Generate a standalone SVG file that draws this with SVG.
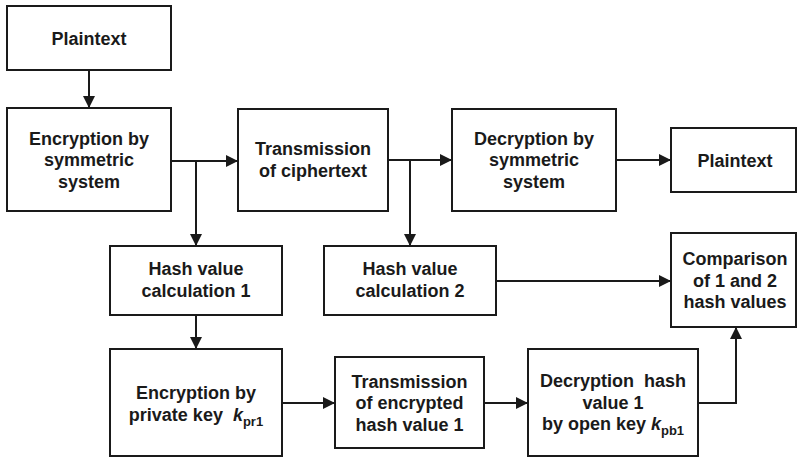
<svg xmlns="http://www.w3.org/2000/svg" width="797" height="459" viewBox="0 0 797 459">
  <style>
    .box { fill: #ffffff; stroke: #1a1a1a; stroke-width: 2; }
    .lbl { font-family: "Liberation Sans", Arial, sans-serif; font-weight: bold; font-size: 18px; fill: #1a1a1a; text-anchor: middle; white-space: pre; }
    .key { font-style: italic; }
    .sub { font-size: 13px; font-style: normal; }
    .wire { fill: none; stroke: #1a1a1a; stroke-width: 2; }
  </style>
  <defs>
    <marker id="arrow" markerUnits="userSpaceOnUse" markerWidth="12" markerHeight="12" viewBox="0 0 12 12" refX="12" refY="6" orient="auto">
      <path d="M0,0 L12,6 L0,12 Z" fill="#1a1a1a"/>
    </marker>
  </defs>
  <rect width="797" height="459" fill="#ffffff"/>

  <g id="plaintext-in">
    <rect class="box" x="7" y="6" width="164" height="64"/>
    <text class="lbl" x="89" y="44.5">Plaintext</text>
  </g>

  <g id="encrypt-symmetric">
    <rect class="box" x="7" y="108" width="164" height="103"/>
    <text class="lbl" x="89" y="144.5">Encryption by</text>
    <text class="lbl" x="89" y="166">symmetric</text>
    <text class="lbl" x="89" y="187.5">system</text>
  </g>

  <g id="transmit-ciphertext">
    <rect class="box" x="238" y="109" width="150" height="102"/>
    <text class="lbl" x="313" y="155">Transmission</text>
    <text class="lbl" x="313" y="177">of ciphertext</text>
  </g>

  <g id="decrypt-symmetric">
    <rect class="box" x="452" y="109" width="164" height="102"/>
    <text class="lbl" x="534" y="144.5">Decryption by</text>
    <text class="lbl" x="534" y="166">symmetric</text>
    <text class="lbl" x="534" y="187.5">system</text>
  </g>

  <g id="plaintext-out">
    <rect class="box" x="671" y="128" width="125" height="64"/>
    <text class="lbl" x="735" y="166.5">Plaintext</text>
  </g>

  <g id="hash-1">
    <rect class="box" x="110" y="246" width="172" height="69"/>
    <text class="lbl" x="196" y="275">Hash value</text>
    <text class="lbl" x="196" y="297">calculation 1</text>
  </g>

  <g id="hash-2">
    <rect class="box" x="324" y="246" width="172" height="69"/>
    <text class="lbl" x="410" y="275">Hash value</text>
    <text class="lbl" x="410" y="297">calculation 2</text>
  </g>

  <g id="compare">
    <rect class="box" x="671" y="233" width="125" height="94"/>
    <text class="lbl" x="735" y="265">Comparison</text>
    <text class="lbl" x="735" y="286.5">of 1 and 2</text>
    <text class="lbl" x="735" y="308">hash values</text>
  </g>

  <g id="encrypt-private">
    <rect class="box" x="110" y="349" width="172" height="107"/>
    <text class="lbl" x="196" y="399">Encryption by</text>
    <text class="lbl" x="196" y="421" xml:space="preserve">private key  <tspan class="key">k</tspan><tspan class="sub" dy="5">pr1</tspan></text>
  </g>

  <g id="transmit-hash">
    <rect class="box" x="335" y="357" width="149" height="91"/>
    <text class="lbl" x="409.5" y="387.5">Transmission</text>
    <text class="lbl" x="409.5" y="409">of encrypted</text>
    <text class="lbl" x="409.5" y="430.5">hash value 1</text>
  </g>

  <g id="decrypt-hash">
    <rect class="box" x="528" y="349" width="170" height="107"/>
    <text class="lbl" x="613" y="387" xml:space="preserve">Decryption  hash</text>
    <text class="lbl" x="613" y="408.5">value 1</text>
    <text class="lbl" x="613" y="430" xml:space="preserve">by open key <tspan class="key">k</tspan><tspan class="sub" dy="5">pb1</tspan></text>
  </g>

  <g id="connectors">
    <path class="wire" d="M89,70 V108" marker-end="url(#arrow)"/>
    <path class="wire" d="M171,161 H238" marker-end="url(#arrow)"/>
    <path class="wire" d="M196,161 V246" marker-end="url(#arrow)"/>
    <path class="wire" d="M388,160 H452" marker-end="url(#arrow)"/>
    <path class="wire" d="M410,160 V246" marker-end="url(#arrow)"/>
    <path class="wire" d="M616,160 H671" marker-end="url(#arrow)"/>
    <path class="wire" d="M196,315 V349" marker-end="url(#arrow)"/>
    <path class="wire" d="M496,281 H671" marker-end="url(#arrow)"/>
    <path class="wire" d="M282,403 H335" marker-end="url(#arrow)"/>
    <path class="wire" d="M484,403 H528" marker-end="url(#arrow)"/>
    <path class="wire" d="M698,403 H736 V327" marker-end="url(#arrow)"/>
  </g>
</svg>
